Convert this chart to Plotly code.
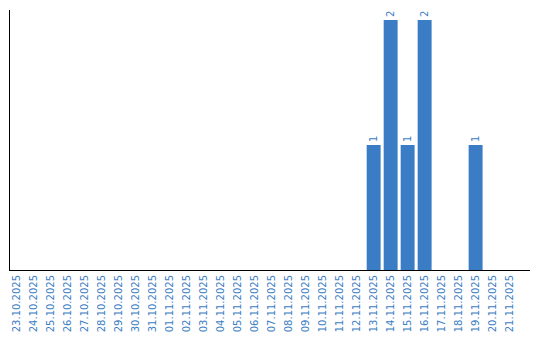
import plotly.graph_objects as go

dates = ["23.10.2025","24.10.2025","25.10.2025","26.10.2025","27.10.2025","28.10.2025",
         "29.10.2025","30.10.2025","31.10.2025","01.11.2025","02.11.2025","03.11.2025",
         "04.11.2025","05.11.2025","06.11.2025","07.11.2025","08.11.2025","09.11.2025",
         "10.11.2025","11.11.2025","12.11.2025","13.11.2025","14.11.2025","15.11.2025",
         "16.11.2025","17.11.2025","18.11.2025","19.11.2025","20.11.2025","21.11.2025"]
counts = [0]*21 + [1, 2, 1, 2, 0, 0, 1, 0, 0]

blue = "#3b7dc4"
labels = [str(c) if c else "" for c in counts]
fam = "DejaVu Sans"

fig = go.Figure(go.Bar(
    x=list(range(len(dates))), y=counts, text=labels, textposition="outside",
    textangle=-90, cliponaxis=False, width=0.82,
    marker=dict(color=blue, line=dict(width=0)),
    textfont=dict(family=fam, size=10, color=blue),
))
fig.update_layout(
    width=540, height=340, margin=dict(l=10, r=10, t=10, b=70),
    paper_bgcolor="white", plot_bgcolor="white", showlegend=False,
    font=dict(family=fam, size=10, color=blue),
)
fig.update_xaxes(tickmode="array", tickvals=list(range(len(dates))), ticktext=dates,
                 tickangle=-90, range=[-0.4, 30.2], showline=True, linecolor="black",
                 linewidth=1, showgrid=False, zeroline=False, ticks="", automargin=False,
                 tickfont=dict(family=fam, size=10, color=blue))
fig.update_yaxes(range=[0, 2.08], showline=True, linecolor="black", linewidth=1,
                 showgrid=False, zeroline=False, showticklabels=False, ticks="",
                 automargin=False)
fig.write_html("out.html")
